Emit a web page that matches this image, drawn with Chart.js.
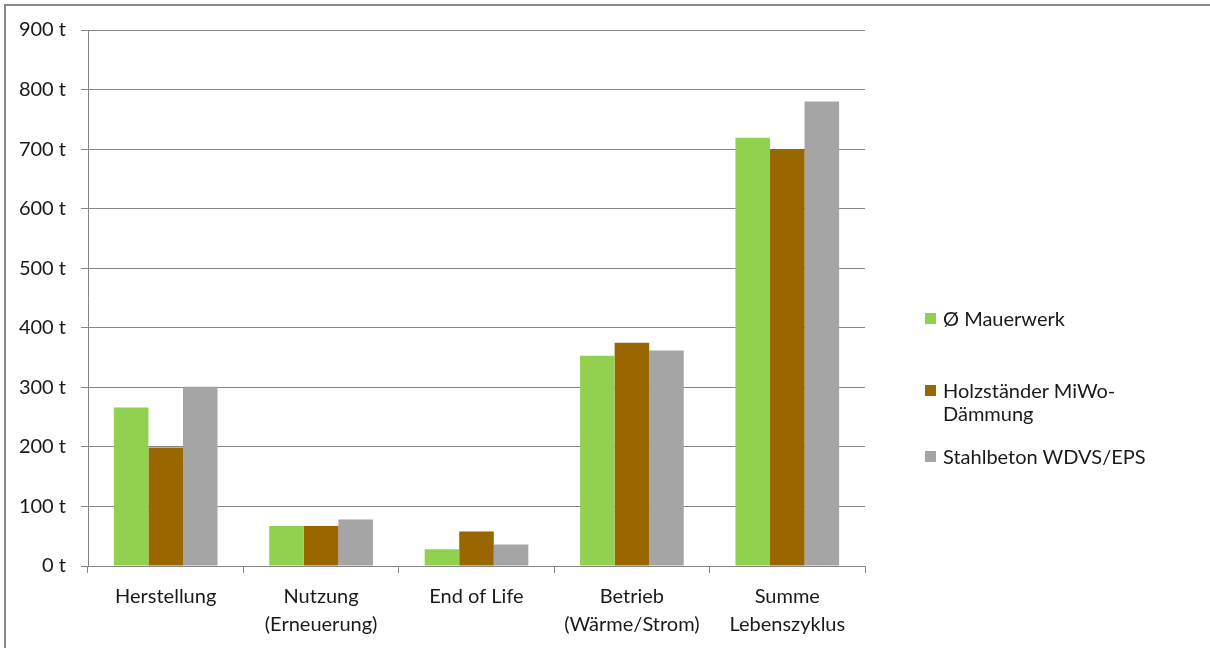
<!DOCTYPE html>
<html>
<head>
<meta charset="utf-8">
<script src="https://cdn.jsdelivr.net/npm/chart.js@4"></script>
<style>
  html, body { margin: 0; padding: 0; background: #fff; }
  #wrap { position: relative; width: 1210px; height: 648px; overflow: hidden; font-family: Lato, sans-serif; }
  #frame { position: absolute; left: 4px; top: 4px; width: 1220px; height: 660px; border: 2px solid #888; box-sizing: border-box; }
  #c { position: absolute; left: 0; top: 0; }
  .leg { position: absolute; left: 925px; font-size: 20px; line-height: 23px; color: #1a1a1a; white-space: pre-line; padding-left: 18px; }
  .leg i { position: absolute; left: 0; top: 6px; width: 11px; height: 11px; }
</style>
</head>
<body>
<div id="wrap">
  <div id="frame"></div>
  <canvas id="c" width="1210" height="648"></canvas>
  <div id="legend"></div>
</div>
<script>
// categories (multi-line labels)
const categories = [
  ['Herstellung'],
  ['Nutzung', '(Erneuerung)'],
  ['End of Life'],
  ['Betrieb', '(Wärme/Strom)'],
  ['Summe', 'Lebenszyklus']
];
const seriesNames = ['Ø Mauerwerk', 'Holzständer MiWo-\nDämmung', 'Stahlbeton WDVS/EPS'];
const mauerwerk  = [266, 67, 28, 353, 719];
const holzstaender = [199, 67, 58, 375, 700];
const stahlbeton = [301, 78, 36, 362, 780];
const colors = ['#92D050', '#996600', '#A5A5A5'];
const yMax = 900;
const yStep = 100;

const seriesValues = [mauerwerk, holzstaender, stahlbeton];

// html legend (excel-like spacing)
const legTops = [307, 379, 445];
const legend = document.getElementById('legend');
seriesNames.forEach((name, i) => {
  const d = document.createElement('div');
  d.className = 'leg';
  d.style.top = legTops[i] + 'px';
  d.innerHTML = '<i style="background:' + colors[i] + '"></i>';
  d.appendChild(document.createTextNode(name));
  legend.appendChild(d);
});

const gridCol = '#868686';

new Chart(document.getElementById('c'), {
  type: 'bar',
  data: {
    labels: categories,
    datasets: seriesNames.map((n, i) => ({
      label: n,
      data: seriesValues[i],
      backgroundColor: colors[i],
      borderWidth: 0,
      barPercentage: 1,
      categoryPercentage: 0.667
    }))
  },
  options: {
    responsive: false,
    animation: false,
    layout: { padding: { top: 30, right: 345, left: 0, bottom: 0 } },
    plugins: { legend: { display: false }, tooltip: { enabled: false } },
    scales: {
      x: {
        afterFit: s => { s.height = 82; },
        grid: { offset: true, drawOnChartArea: false, color: gridCol, tickLength: 7 },
        border: { color: gridCol, width: 1 },
        ticks: {
          color: '#1a1a1a',
          padding: 10,
          maxRotation: 0,
          autoSkip: false,
          font: { family: 'Lato', size: 20, lineHeight: 1.4 }
        }
      },
      y: {
        min: 0,
        max: yMax,
        afterFit: s => { s.width = 88; },
        grid: { color: gridCol, tickLength: 7 },
        border: { color: gridCol, width: 1 },
        ticks: {
          stepSize: yStep,
          color: '#1a1a1a',
          padding: 15,
          font: { family: 'Lato', size: 20 },
          callback: v => v + ' t'
        }
      }
    }
  }
});
</script>
</body>
</html>
